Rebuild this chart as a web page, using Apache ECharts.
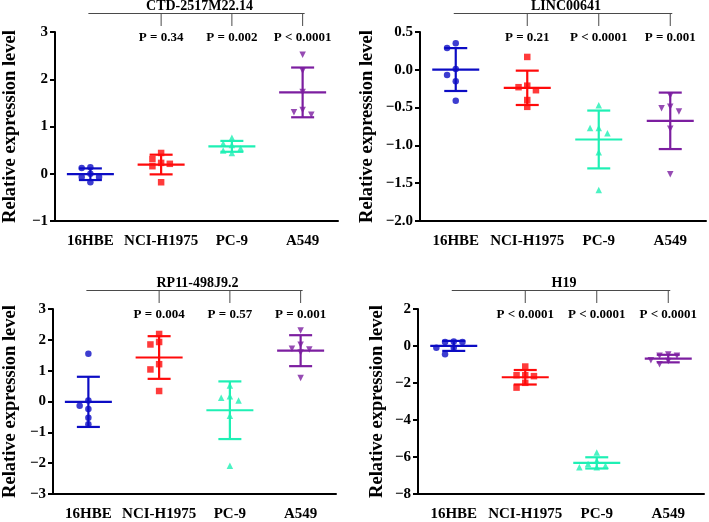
<!DOCTYPE html>
<html><head><meta charset="utf-8">
<script src="https://cdn.jsdelivr.net/npm/echarts@6/dist/echarts.min.js"></script>
<style>html,body{margin:0;padding:0;background:#fff}#c{width:709px;height:522px}</style>
</head><body><div id="c"></div>
<script>
const categories = ['16HBE', 'NCI-H1975', 'PC-9', 'A549'];
const panelTitles = ['CTD-2517M22.14', 'LINC00641', 'RP11-498J9.2', 'H19'];
const ctdValues = [[0.14, 0.12, -0.07, -0.18, -0.07, 0.00], [0.31, 0.44, 0.21, 0.16, 0.23, -0.18], [0.64, 0.76, 0.54, 0.44, 0.49, 0.61], [2.52, 2.18, 1.73, 1.35, 1.25, 1.30]];
const lincValues = [[0.35, 0.29, 0.01, -0.07, -0.15, -0.41], [0.17, -0.23, -0.27, -0.21, -0.40, -0.49], [-0.47, -0.77, -0.77, -0.84, -1.09, -1.59], [-0.34, -0.49, -0.51, -0.55, -0.78, -1.38]];
const rpValues = [[1.55, 0.03, -0.14, -0.24, -0.53, -0.74], [2.19, 1.93, 1.85, 1.21, 1.04, 0.34], [0.52, 0.17, 0.12, 0.03, -0.46, -2.08], [2.30, 1.84, 1.69, 1.71, 1.59, 0.76]];
const h19Values = [[0.21, 0.21, 0.25, -0.10, -0.10, -0.44], [-1.11, -1.58, -1.63, -1.58, -1.99, -2.25], [-5.76, -6.20, -6.38, -6.47, -6.55, -6.55], [-0.46, -0.53, -0.53, -0.77, -0.81, -0.98]];
const ctdP = ['P = 0.34', 'P = 0.002', 'P < 0.0001'];
const lincP = ['P = 0.21', 'P < 0.0001', 'P = 0.001'];
const rpP = ['P = 0.004', 'P = 0.57', 'P = 0.001'];
const h19P = ['P < 0.0001', 'P < 0.0001', 'P < 0.0001'];
const yMin = [-1, -2, -3, -8];
const yMax = [3, 0.5, 3, 2];
const yStep = [1, 0.5, 1, 2];
const yDecimals = [0, 1, 0, 0];

const panelValues = [ctdValues, lincValues, rpValues, h19Values];
const panelP = [ctdP, lincP, rpP, h19P];

// styling / layout
const colors = ['#0c0cc4', '#ff0a0a', '#1ef0b4', '#7c1ea0'];
const symbols = ['circle', 'rect', 'triangle', 'triangle'];
const rotations = [0, 0, 0, 180];
const FONT = '"Liberation Serif", "Times New Roman", serif';
const grids = [
  {left: 52, top: 32, width: 286, height: 189},
  {left: 420, top: 32, width: 286, height: 189},
  {left: 50, top: 309, width: 286, height: 190},
  {left: 418, top: 309, width: 286, height: 190}
];
const nameGaps = [35, 43, 33, 31];
const markerSize = 6.5;
const jitterStep = 8.7;

function meanSd(a) {
  const m = a.reduce((s, v) => s + v, 0) / a.length;
  const v = a.reduce((s, x) => s + (x - m) * (x - m), 0) / (a.length - 1);
  return [m, Math.sqrt(v)];
}

function swarmCols(vals, pxPerUnit) {
  const idx = vals.map((v, i) => i).sort((a, b) => vals[b] - vals[a]);
  const placed = [];
  const cols = new Array(vals.length).fill(0);
  const order = [0, -1, 1, -2, 2, -3, 3];
  idx.forEach(i => {
    for (const c of order) {
      const clash = placed.some(p => p.c === c && Math.abs(p.v - vals[i]) * pxPerUnit < 6.5);
      if (!clash) { cols[i] = c; placed.push({c, v: vals[i]}); break; }
    }
  });
  return cols;
}

const option = {
  animation: false,
  backgroundColor: '#fff',
  grid: grids,
  xAxis: grids.map((g, i) => ({
    type: 'category', gridIndex: i, data: categories,
    axisLine: {onZero: false, lineStyle: {color: '#000', width: 2}},
    axisTick: {alignWithLabel: true, length: 5, lineStyle: {color: '#000', width: 2}},
    axisLabel: {interval: 0, color: '#000', fontFamily: FONT, fontWeight: 'bold', fontSize: 15, margin: 13},
    splitLine: {show: false}
  })),
  yAxis: grids.map((g, i) => ({
    type: 'value', gridIndex: i, min: yMin[i], max: yMax[i], interval: yStep[i],
    name: 'Relative expression level', nameLocation: 'middle', nameGap: nameGaps[i],
    nameTextStyle: {color: '#000', fontFamily: FONT, fontWeight: 'bold', fontSize: 18.5},
    axisLine: {show: true, lineStyle: {color: '#000', width: 2}},
    axisTick: {show: true, length: 5, lineStyle: {color: '#000', width: 2}},
    axisLabel: {color: '#000', fontFamily: FONT, fontWeight: 'bold', fontSize: 15, margin: 7,
      formatter: v => v.toFixed(yDecimals[i]).replace('-', '\u2212')},
    splitLine: {show: false}
  })),
  series: []
};

panelValues.forEach((groups, pi) => {
  const pxPerUnit = grids[pi].height / (yMax[pi] - yMin[pi]);
  const pts = [];
  groups.forEach((vals, ci) => {
    const cols = swarmCols(vals, pxPerUnit);
    vals.forEach((v, k) => {
      pts.push({
        value: [ci, v], symbol: symbols[ci], symbolRotate: rotations[ci],
        symbolOffset: [cols[k] * jitterStep, 0],
        itemStyle: {color: colors[ci]}
      });
    });
  });
  option.series.push({
    type: 'scatter', xAxisIndex: pi, yAxisIndex: pi, symbolSize: markerSize, data: pts, z: 3
  });
  option.series.push({
    type: 'custom', xAxisIndex: pi, yAxisIndex: pi, z: 4,
    data: groups.map((vals, ci) => { const ms = meanSd(vals); return [ci, ms[0], ms[1]]; }),
    encode: {x: 0, y: 1},
    renderItem: (params, api) => {
      const ci = api.value(0), m = api.value(1), sd = api.value(2);
      const c = api.coord([ci, m]);
      const t = api.coord([ci, m + sd]);
      const b = api.coord([ci, m - sd]);
      const st = {stroke: colors[ci], lineWidth: 2.2};
      return {type: 'group', children: [
        {type: 'line', shape: {x1: c[0], y1: t[1], x2: c[0], y2: b[1]}, style: st},
        {type: 'line', shape: {x1: c[0] - 11.5, y1: t[1], x2: c[0] + 11.5, y2: t[1]}, style: st},
        {type: 'line', shape: {x1: c[0] - 11.5, y1: b[1], x2: c[0] + 11.5, y2: b[1]}, style: st},
        {type: 'line', shape: {x1: c[0] - 23.5, y1: c[1], x2: c[0] + 23.5, y2: c[1]}, style: st}
      ]};
    }
  });
  option.series.push({
    type: 'custom', xAxisIndex: pi, yAxisIndex: pi, z: 5, clip: false, silent: true,
    data: [[0, yMin[pi]]], encode: {x: 0, y: 1},
    renderItem: (params, api) => {
      const top = params.coordSys.y;
      const xs = [0, 1, 2, 3].map(i => api.coord([i, yMin[pi]])[0]);
      const ls = {stroke: '#4a4a4a', lineWidth: 1};
      const ch = [];
      ch.push({type: 'line', shape: {x1: xs[0] - 2, y1: top - 18.5, x2: xs[3] + 2, y2: top - 18.5}, style: ls});
      for (let i = 1; i < 4; i++) {
        ch.push({type: 'line', shape: {x1: xs[i], y1: top - 18.5, x2: xs[i], y2: top - 6}, style: ls});
        ch.push({type: 'text', x: xs[i], y: top + 6, style: {text: panelP[pi][i - 1], align: 'center', verticalAlign: 'middle', fill: '#000', font: 'bold 13px ' + FONT}});
      }
      ch.push({type: 'text', x: (xs[0] + xs[3]) / 2 + 3, y: top - 26, style: {text: panelTitles[pi], align: 'center', verticalAlign: 'middle', fill: '#000', font: 'bold 14px ' + FONT}});
      return {type: 'group', children: ch};
    }
  });
});

const chart = echarts.init(document.getElementById('c'), null, {renderer: 'canvas'});
chart.setOption(option);
</script>
</body></html>
